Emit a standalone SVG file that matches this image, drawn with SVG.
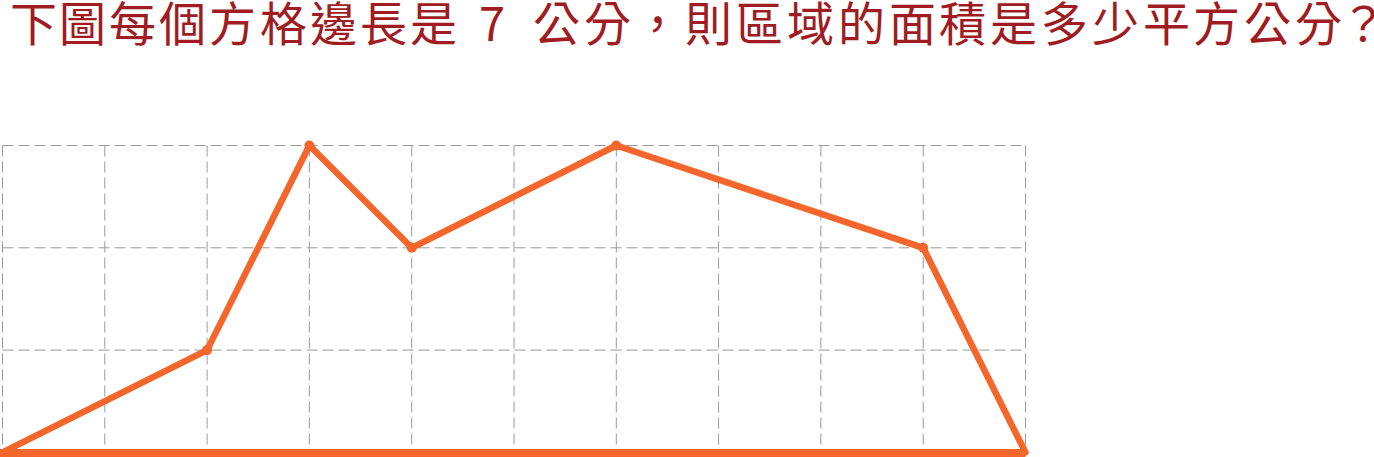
<svg xmlns="http://www.w3.org/2000/svg" width="1374" height="457" viewBox="0 0 1374 457">
<style>
.title{font-family:"Noto Sans CJK TC","Noto Sans CJK SC",sans-serif;font-size:47px;fill:#a01c22}
.grid line{stroke:#9a9a9a;stroke-width:1;stroke-dasharray:11 5}
.shape{fill:none;stroke:#f4662c;stroke-width:6.5;stroke-linejoin:round}
.dot{fill:#f4662c}
</style>
<rect width="1374" height="457" fill="#ffffff"/>
<g id="title">
<text class="title" y="41" x="10 59 109 159 209 260 310 360 410">下圖每個方格邊長是</text>
<text class="title" y="41" x="479">7</text>
<text class="title" y="41" x="533 584 634 685 736 787 838 889 939 990 1041 1092 1143 1193 1244 1295 1340">公分，則區域的面積是多少平方公分？</text>
</g>
<g id="grid" class="grid">
<line x1="2.5" y1="145.5" x2="1025.5" y2="145.5"/>
<line x1="2.5" y1="247.8" x2="1025.5" y2="247.8"/>
<line x1="2.5" y1="350.1" x2="1025.5" y2="350.1"/>
<line x1="2.5" y1="145.5" x2="2.5" y2="452.4"/>
<line x1="104.8" y1="145.5" x2="104.8" y2="452.4"/>
<line x1="207.1" y1="145.5" x2="207.1" y2="452.4"/>
<line x1="309.4" y1="145.5" x2="309.4" y2="452.4"/>
<line x1="411.7" y1="145.5" x2="411.7" y2="452.4"/>
<line x1="514" y1="145.5" x2="514" y2="452.4"/>
<line x1="616.3" y1="145.5" x2="616.3" y2="452.4"/>
<line x1="718.6" y1="145.5" x2="718.6" y2="452.4"/>
<line x1="820.9" y1="145.5" x2="820.9" y2="452.4"/>
<line x1="923.2" y1="145.5" x2="923.2" y2="452.4"/>
<line x1="1025.5" y1="145.5" x2="1025.5" y2="452.4"/>
</g>
<g id="region">
<polygon class="shape" points="2.5,452.4 207.1,350.1 309.4,145.5 411.7,247.8 616.3,145.5 923.2,247.8 1025.5,452.4"/>
<line x1="0" y1="453" x2="1025.5" y2="453" stroke="#f4662c" stroke-width="8"/>
<circle class="dot" cx="207.1" cy="350.1" r="5"/>
<circle class="dot" cx="309.4" cy="145.5" r="5"/>
<circle class="dot" cx="411.7" cy="247.8" r="5"/>
<circle class="dot" cx="616.3" cy="145.5" r="5"/>
<circle class="dot" cx="923.2" cy="247.8" r="5"/>
</g>
</svg>
